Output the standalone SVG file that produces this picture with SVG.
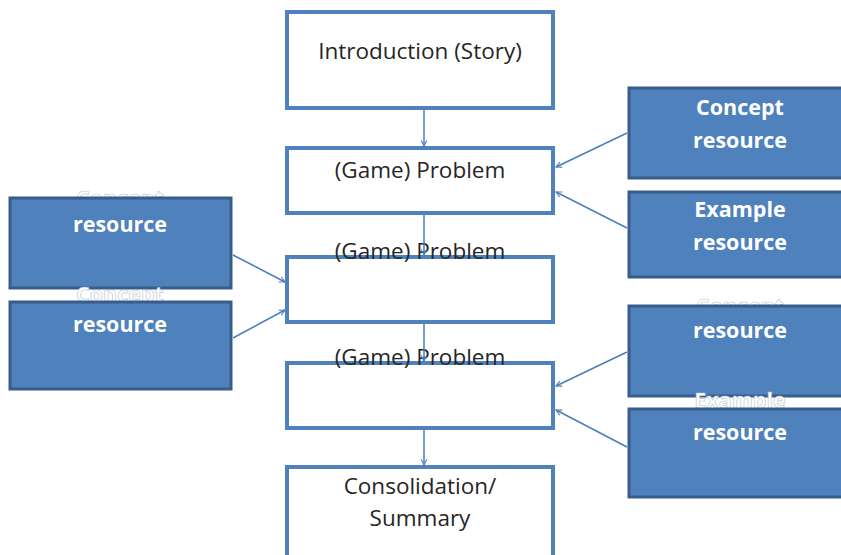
<svg xmlns="http://www.w3.org/2000/svg" width="841" height="555" viewBox="0 0 841 555">
  <style>
    .step { fill: #ffffff; stroke: #4f81bd; stroke-width: 4; }
    .res { fill: #4f81bd; stroke: #385d8a; stroke-width: 3; }
    .lbl { font-family: "Open Sans", "Liberation Sans", sans-serif; font-size: 22.5px; fill: #262626; text-anchor: middle; }
    .rlbl { font-family: "Open Sans", "Liberation Sans", sans-serif; font-size: 21.5px; font-weight: bold; fill: #ffffff; text-anchor: middle; }
    .hid { font-family: "Open Sans", "Liberation Sans", sans-serif; font-size: 21.5px; font-weight: bold; fill: #ffffff; stroke: #b8c4d4; stroke-width: 0.6; text-anchor: middle; }
    .link { fill: none; stroke: #4a7ebb; stroke-width: 1.5; }
  </style>
  <defs>
    <marker id="arrow" viewBox="0 0 10 10" refX="9" refY="5" markerWidth="7" markerHeight="7" markerUnits="userSpaceOnUse" orient="auto">
      <path d="M1,1 L9,5 L1,9" fill="none" stroke="#4a7ebb" stroke-width="1.5"/>
    </marker>
  </defs>

  <rect width="841" height="555" fill="#ffffff"/>

  <!-- main sequence -->
  <g id="intro">
    <rect class="step" x="287" y="12" width="266" height="96"/>
    <text class="lbl" x="420" y="59">Introduction (Story)</text>
  </g>
  <g id="problem1">
    <rect class="step" x="287" y="148" width="266" height="65"/>
    <text class="lbl" x="420" y="178">(Game) Problem</text>
  </g>
  <g id="problem2">
    <rect class="step" x="287" y="257" width="266" height="65"/>
    <text class="lbl" x="420" y="259">(Game) Problem</text>
  </g>
  <g id="problem3">
    <rect class="step" x="287" y="363" width="266" height="65"/>
    <text class="lbl" x="420" y="365">(Game) Problem</text>
  </g>
  <g id="summary">
    <rect class="step" x="287" y="467" width="266" height="100"/>
    <text class="lbl" x="420" y="494">Consolidation/</text>
    <text class="lbl" x="420" y="526">Summary</text>
  </g>

  <!-- resources, left side (first line sits behind the box) -->
  <g id="left-concept-1">
    <text class="hid" x="120" y="206">Concept</text>
    <rect class="res" x="10" y="198" width="221" height="90"/>
    <text class="rlbl" x="120" y="232">resource</text>
  </g>
  <g id="left-concept-2">
    <text class="hid" x="120" y="302">Concept</text>
    <rect class="res" x="10" y="302" width="221" height="87"/>
    <text class="rlbl" x="120" y="332">resource</text>
  </g>

  <!-- resources, right side -->
  <g id="right-concept-1">
    <rect class="res" x="629" y="88" width="220" height="90"/>
    <text class="rlbl" x="740" y="115">Concept</text>
    <text class="rlbl" x="740" y="148">resource</text>
  </g>
  <g id="right-example-1">
    <rect class="res" x="629" y="192" width="220" height="85"/>
    <text class="rlbl" x="740" y="217">Example</text>
    <text class="rlbl" x="740" y="250">resource</text>
  </g>
  <g id="right-concept-2">
    <text class="hid" x="740" y="314">Concept</text>
    <rect class="res" x="629" y="306" width="220" height="90"/>
    <text class="rlbl" x="740" y="338">resource</text>
  </g>
  <g id="right-example-2">
    <text class="hid" x="740" y="408">Example</text>
    <rect class="res" x="629" y="409" width="220" height="88"/>
    <text class="rlbl" x="740" y="440">resource</text>
  </g>

  <!-- connectors -->
  <g id="connectors">
    <line class="link" x1="424" y1="110" x2="424" y2="146" marker-end="url(#arrow)"/>
    <line class="link" x1="424" y1="215" x2="424" y2="255" marker-end="url(#arrow)"/>
    <line class="link" x1="424" y1="324" x2="424" y2="361" marker-end="url(#arrow)"/>
    <line class="link" x1="424" y1="430" x2="424" y2="465" marker-end="url(#arrow)"/>

    <line class="link" x1="233" y1="255" x2="285" y2="282" marker-end="url(#arrow)"/>
    <line class="link" x1="233" y1="338" x2="285" y2="310" marker-end="url(#arrow)"/>

    <line class="link" x1="627" y1="133" x2="556" y2="167" marker-end="url(#arrow)"/>
    <line class="link" x1="627" y1="228" x2="556" y2="192" marker-end="url(#arrow)"/>
    <line class="link" x1="627" y1="352" x2="556" y2="386" marker-end="url(#arrow)"/>
    <line class="link" x1="627" y1="447" x2="556" y2="410" marker-end="url(#arrow)"/>
  </g>
</svg>
